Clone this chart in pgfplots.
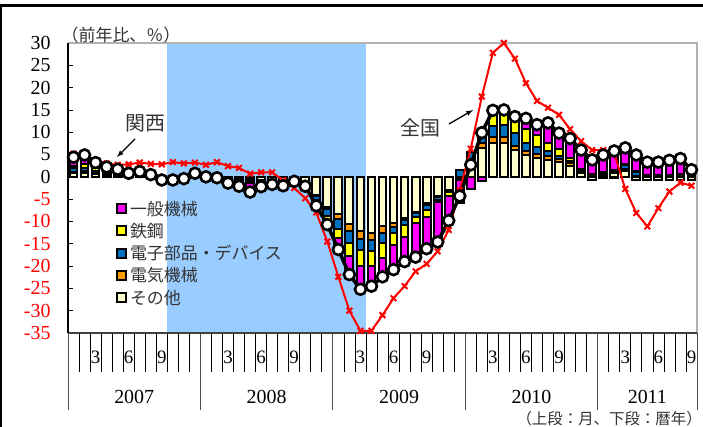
\documentclass[border=0pt]{standalone}
\usepackage{fontspec}
\setmainfont{Liberation Serif}
\newfontfamily\jp{Noto Sans CJK JP}
\usepackage{pgfplots}
\usepackage{pgfplotstable}
\pgfplotsset{compat=1.18}

\definecolor{cre}{HTML}{FFFFCC}
\definecolor{ele}{HTML}{FF9900}
\definecolor{dev}{HTML}{0070C0}
\definecolor{stl}{HTML}{FFFF00}
\definecolor{mac}{HTML}{FF00FF}
\definecolor{recess}{HTML}{99CCFF}
\definecolor{txt}{HTML}{333333}

% m: month from 2007-01; cre=その他, ele=電気機械, dev=電子部品・デバイス,
% stl=鉄鋼, mac=一般機械 (contributions); kan=関西 total; zen=全国
\pgfplotstableread{
m   cre   ele   dev   stl   mac   kan    zen
1   0.8   0.3   0.8   0.5   2.0   4.4    5.2
2   0.8   0.4   0.8   0.8   2.1   4.9    4.5
3   0.6   0.3   0.5   0.6   1.2   3.2    3.7
4   0.5   0.2   0.5   0.5   0.5   2.2    3.0
5   0.2   0.2   0.6   0.4   0.3   1.7    2.7
6   0.1   0.1   0.3   0.2   0.1   0.8    2.8
7   0.2   0.2   0.3   0.3   0.2   1.2    3.2
8   0.0   0.1   0.2   0.2   0.0   0.5    2.9
9  -0.5   0.0   0.1   0.1  -0.4  -0.7    2.8
10 -0.5  -0.1   0.1   0.1  -0.3  -0.7    3.3
11 -0.4   0.0   0.1   0.1  -0.2  -0.4    3.0
12  0.3   0.1   0.2   0.3  -0.1   0.8    3.2
13 -0.2   0.0   0.1   0.2  -0.1   0.0    2.7
14 -0.3   0.0   0.1   0.2  -0.2  -0.2    3.3
15 -0.4  -0.1  -0.3  -0.2  -0.4  -1.4    2.4
16 -0.4  -0.2  -0.3  -0.3  -0.9  -2.1    2.0
17 -0.5  -0.2  -0.3  -0.3  -2.1  -3.4    0.7
18 -0.6  -0.2  -0.4  -0.3  -0.7  -2.2    1.0
19 -0.7  -0.1  -0.3  -0.2  -0.4  -1.7    1.0
20 -1.0  -0.1  -0.3  -0.2  -0.4  -2.0   -0.8
21 -0.7   0.0  -0.1  -0.1  -0.1  -1.0   -2.5
22 -1.4  -0.1  -0.2  -0.2  -0.2  -2.1   -4.8
23 -4.0  -0.4  -0.8  -0.5  -0.8  -6.5   -8.0
24 -6.7  -0.5  -1.5  -1.0  -1.0  -10.7  -14.5
25 -8.4  -1.1  -2.2  -1.9  -2.7  -16.3  -22.4
26 -10.5 -1.7  -2.7  -2.9  -4.1  -21.9  -30.0
27 -12.2 -1.8  -2.5  -3.4  -5.3  -25.2  -34.5
28 -12.5 -1.6  -2.6  -3.2  -4.6  -24.5  -34.5
29 -11.1 -1.5  -2.3  -3.3  -4.2  -22.4  -31.0
30 -10.4 -0.8  -1.4  -2.6  -5.6  -20.8  -27.2
31 -9.3  -0.4  -1.0  -2.7  -5.6  -19.0  -24.5
32 -7.8  -0.4  -0.7  -1.5  -7.6  -18.0  -21.2
33 -5.9  -0.4  -1.1  -1.5  -7.2  -16.1  -19.5
34 -4.2  -0.4  -0.5  -0.6  -8.9  -14.6  -16.7
35 -2.9  -0.3  -0.2  -0.8  -5.6  -9.8   -11.9
36 -0.3  -0.1   1.6  -0.3  -5.2  -4.3   -3.0
37  3.0   0.4   2.1   0.0  -2.8   2.7    6.3
38  6.5   1.0   3.0   0.3  -0.9   9.9   18.0
39  7.5   1.5   2.5   2.9   0.5  14.9   27.8
40  7.6   1.4   2.6   3.2   0.2  15.0   30.0
41  6.0   1.0   2.8   3.0   0.7  13.5   26.5
42  5.0   0.8   1.8   3.2   2.3  13.1   21.0
43  4.3   0.9   1.6   2.5   2.4  11.7   17.0
44  3.8   0.8   1.2   1.8   4.5  12.1   15.5
45  3.3   0.7   0.7   1.6   3.5   9.8   13.9
46  2.4   0.6   0.5   0.8   4.3   8.6   10.7
47  0.8   0.3   0.4   0.3   4.2   6.0    8.0
48 -0.8   0.2   0.3   0.2   3.9   3.8    6.0
49  0.3   0.4   0.3  -0.3   4.2   4.9    6.0
50  0.9   0.5   0.2  -0.3   4.5   5.8    5.2
51  1.2   0.6   0.8   0.3   3.6   6.5   -2.7
52 -0.6   0.2   0.8   0.2   4.3   4.9   -8.1
53 -0.7   0.1   0.2   0.2   3.5   3.3  -11.1
54 -0.6   0.1   0.2   0.2   3.4   3.3   -7.0
55 -0.8   0.1   0.2   0.2   4.0   3.7   -3.3
56 -0.7   0.2   0.2   0.2   4.2   4.1   -1.3
57 -0.6   0.1   0.1   0.1   1.9   1.6   -2.0
}\kdata

\pgfplotsset{
  frame/.style={width=629bp, height=290bp, scale only axis,
    at={(0,0)}, anchor=south west,
    xmin=0.5, xmax=57.5, ymin=-35, ymax=30,
    axis line style={draw=none}},
  bx/.style={draw=black, line width=2bp, fill=#1},
  sq/.style={legend image code/.code={%
    \draw[##1, line width=2bp] (0bp,-4.5bp) rectangle (9bp,4.5bp);}},
}
\tikzset{
  mlab/.style={font=\fontsize{19}{19}\selectfont, yshift=-24bp},
  ylab/.style={font=\fontsize{20}{20}\selectfont, yshift=-64bp},
}

\begin{document}
\begin{tikzpicture}
\useasboundingbox (-68bp,-94bp) rectangle (635bp,333bp);

% positive parts, recession shading, y axis, legend
\begin{axis}[frame, ybar stacked, bar width=7.8bp,
  xtick=\empty,
  ytick={-35,-30,...,30},
  yticklabels={{\color{red}-35},{\color{red}-30},{\color{red}-25},
    {\color{red}-20},{\color{red}-15},{\color{red}-10},{\color{red}-5},
    0,5,10,15,20,25,30},
  ytick pos=left, tick align=inside, major tick length=5bp,
  tick style={black, line width=0.8bp},
  yticklabel style={font=\fontsize{20}{20}\selectfont, xshift=-14bp},
  reverse legend,
  legend cell align=left,
  legend style={at={(axis description cs:0.076,0.46)}, anchor=north west,
    draw=none, fill=none, inner sep=0pt,
    font=\jp\fontsize{17}{17}\selectfont, text=txt,
    row sep=4.5bp,
    nodes={inner xsep=3bp, inner ysep=1bp}},
]
\fill[recess] (axis cs:9.5,-35) rectangle (axis cs:27.5,30);
\addplot[bx=cre, sq] table[x=m, y expr={max(\thisrow{cre},0)}] {\kdata};
\addlegendentry{その他}
\addplot[bx=ele, sq] table[x=m, y expr={max(\thisrow{ele},0)}] {\kdata};
\addlegendentry{電気機械}
\addplot[bx=dev, sq] table[x=m, y expr={max(\thisrow{dev},0)}] {\kdata};
\addlegendentry{電子部品・デバイス}
\addplot[bx=stl, sq] table[x=m, y expr={max(\thisrow{stl},0)}] {\kdata};
\addlegendentry{鉄鋼}
\addplot[bx=mac, sq] table[x=m, y expr={max(\thisrow{mac},0)}] {\kdata};
\addlegendentry{一般機械}
\end{axis}

% negative parts and the month / year tick lines
\begin{axis}[frame, ybar stacked, bar width=7.8bp,
  ytick=\empty,
  xtick={0.5,1.5,...,57.5}, xticklabels={},
  xtick pos=bottom, tick align=outside, major tick length=39bp,
  tick style={black, line width=0.7bp},
  extra x ticks={0.5,12.5,24.5,36.5,48.5,57.5}, extra x tick labels={},
  extra x tick style={major tick length=77bp,
    tick style={black!70, line width=0.9bp}},
]
\addplot[bx=cre] table[x=m, y expr={min(\thisrow{cre},0)}] {\kdata};
\addplot[bx=ele] table[x=m, y expr={min(\thisrow{ele},0)}] {\kdata};
\addplot[bx=dev] table[x=m, y expr={min(\thisrow{dev},0)}] {\kdata};
\addplot[bx=stl] table[x=m, y expr={min(\thisrow{stl},0)}] {\kdata};
\addplot[bx=mac] table[x=m, y expr={min(\thisrow{mac},0)}] {\kdata};
\end{axis}

% lines, frame and category labels
\begin{axis}[frame, clip=false, xtick=\empty, ytick=\empty]
\addplot[red, line width=2bp, mark=x, mark size=4bp,
  mark options={line width=2bp}] table[x=m, y=zen] {\kdata};
\addplot[black, line width=3.5bp, mark=*, mark size=5.5bp,
  mark options={fill=white, draw=black, line width=2.6bp}]
  table[x=m, y=kan] {\kdata};
\draw[gray!60, line width=2bp] (rel axis cs:0,1) -- (rel axis cs:1,1)
  -- (rel axis cs:1,0);
\draw[black!75, line width=1.5bp] (rel axis cs:0,0) -- (rel axis cs:1,0);
\draw[black, line width=2bp] (rel axis cs:0,0) -- (rel axis cs:0,1);
\pgfplotsinvokeforeach{3,15,27,39,51}{\node[mlab] at (axis cs:#1,-35) {3};}
\pgfplotsinvokeforeach{6,18,30,42,54}{\node[mlab] at (axis cs:#1,-35) {6};}
\pgfplotsinvokeforeach{9,21,33,45,57}{\node[mlab] at (axis cs:#1,-35) {9};}
\node[ylab] at (axis cs:6.5,-35) {2007};
\node[ylab] at (axis cs:18.5,-35) {2008};
\node[ylab] at (axis cs:30.5,-35) {2009};
\node[ylab] at (axis cs:42.5,-35) {2010};
\node[ylab] at (axis cs:53,-35) {2011};
\end{axis}

% annotations
\node[font=\jp\fontsize{17}{17}\selectfont, text=txt] at (53bp,298bp) {（前年比、％）};
\node[font=\jp\fontsize{20}{20}\selectfont, text=txt] at (77bp,210bp) {関西};
\draw[-latex, line width=1.3bp] (67bp,194bp) -- (49bp,176bp);
\node[font=\jp\fontsize{20}{20}\selectfont, text=txt] at (352bp,205bp) {全国};
\draw[-latex, line width=1.3bp] (381bp,209bp) -- (405bp,223bp);
\node[font=\jp\fontsize{15.5}{15.5}\selectfont, text=txt, anchor=east,
  inner xsep=1bp] at (635bp,-86bp) {（上段：月、下段：暦年）};
% outer frame
\draw[line width=2.5bp] (-70bp,327.5bp) -- (640bp,327.5bp);
\draw[line width=2.5bp] (-66.8bp,329bp) -- (-66.8bp,-100bp);
\end{tikzpicture}
\end{document}
